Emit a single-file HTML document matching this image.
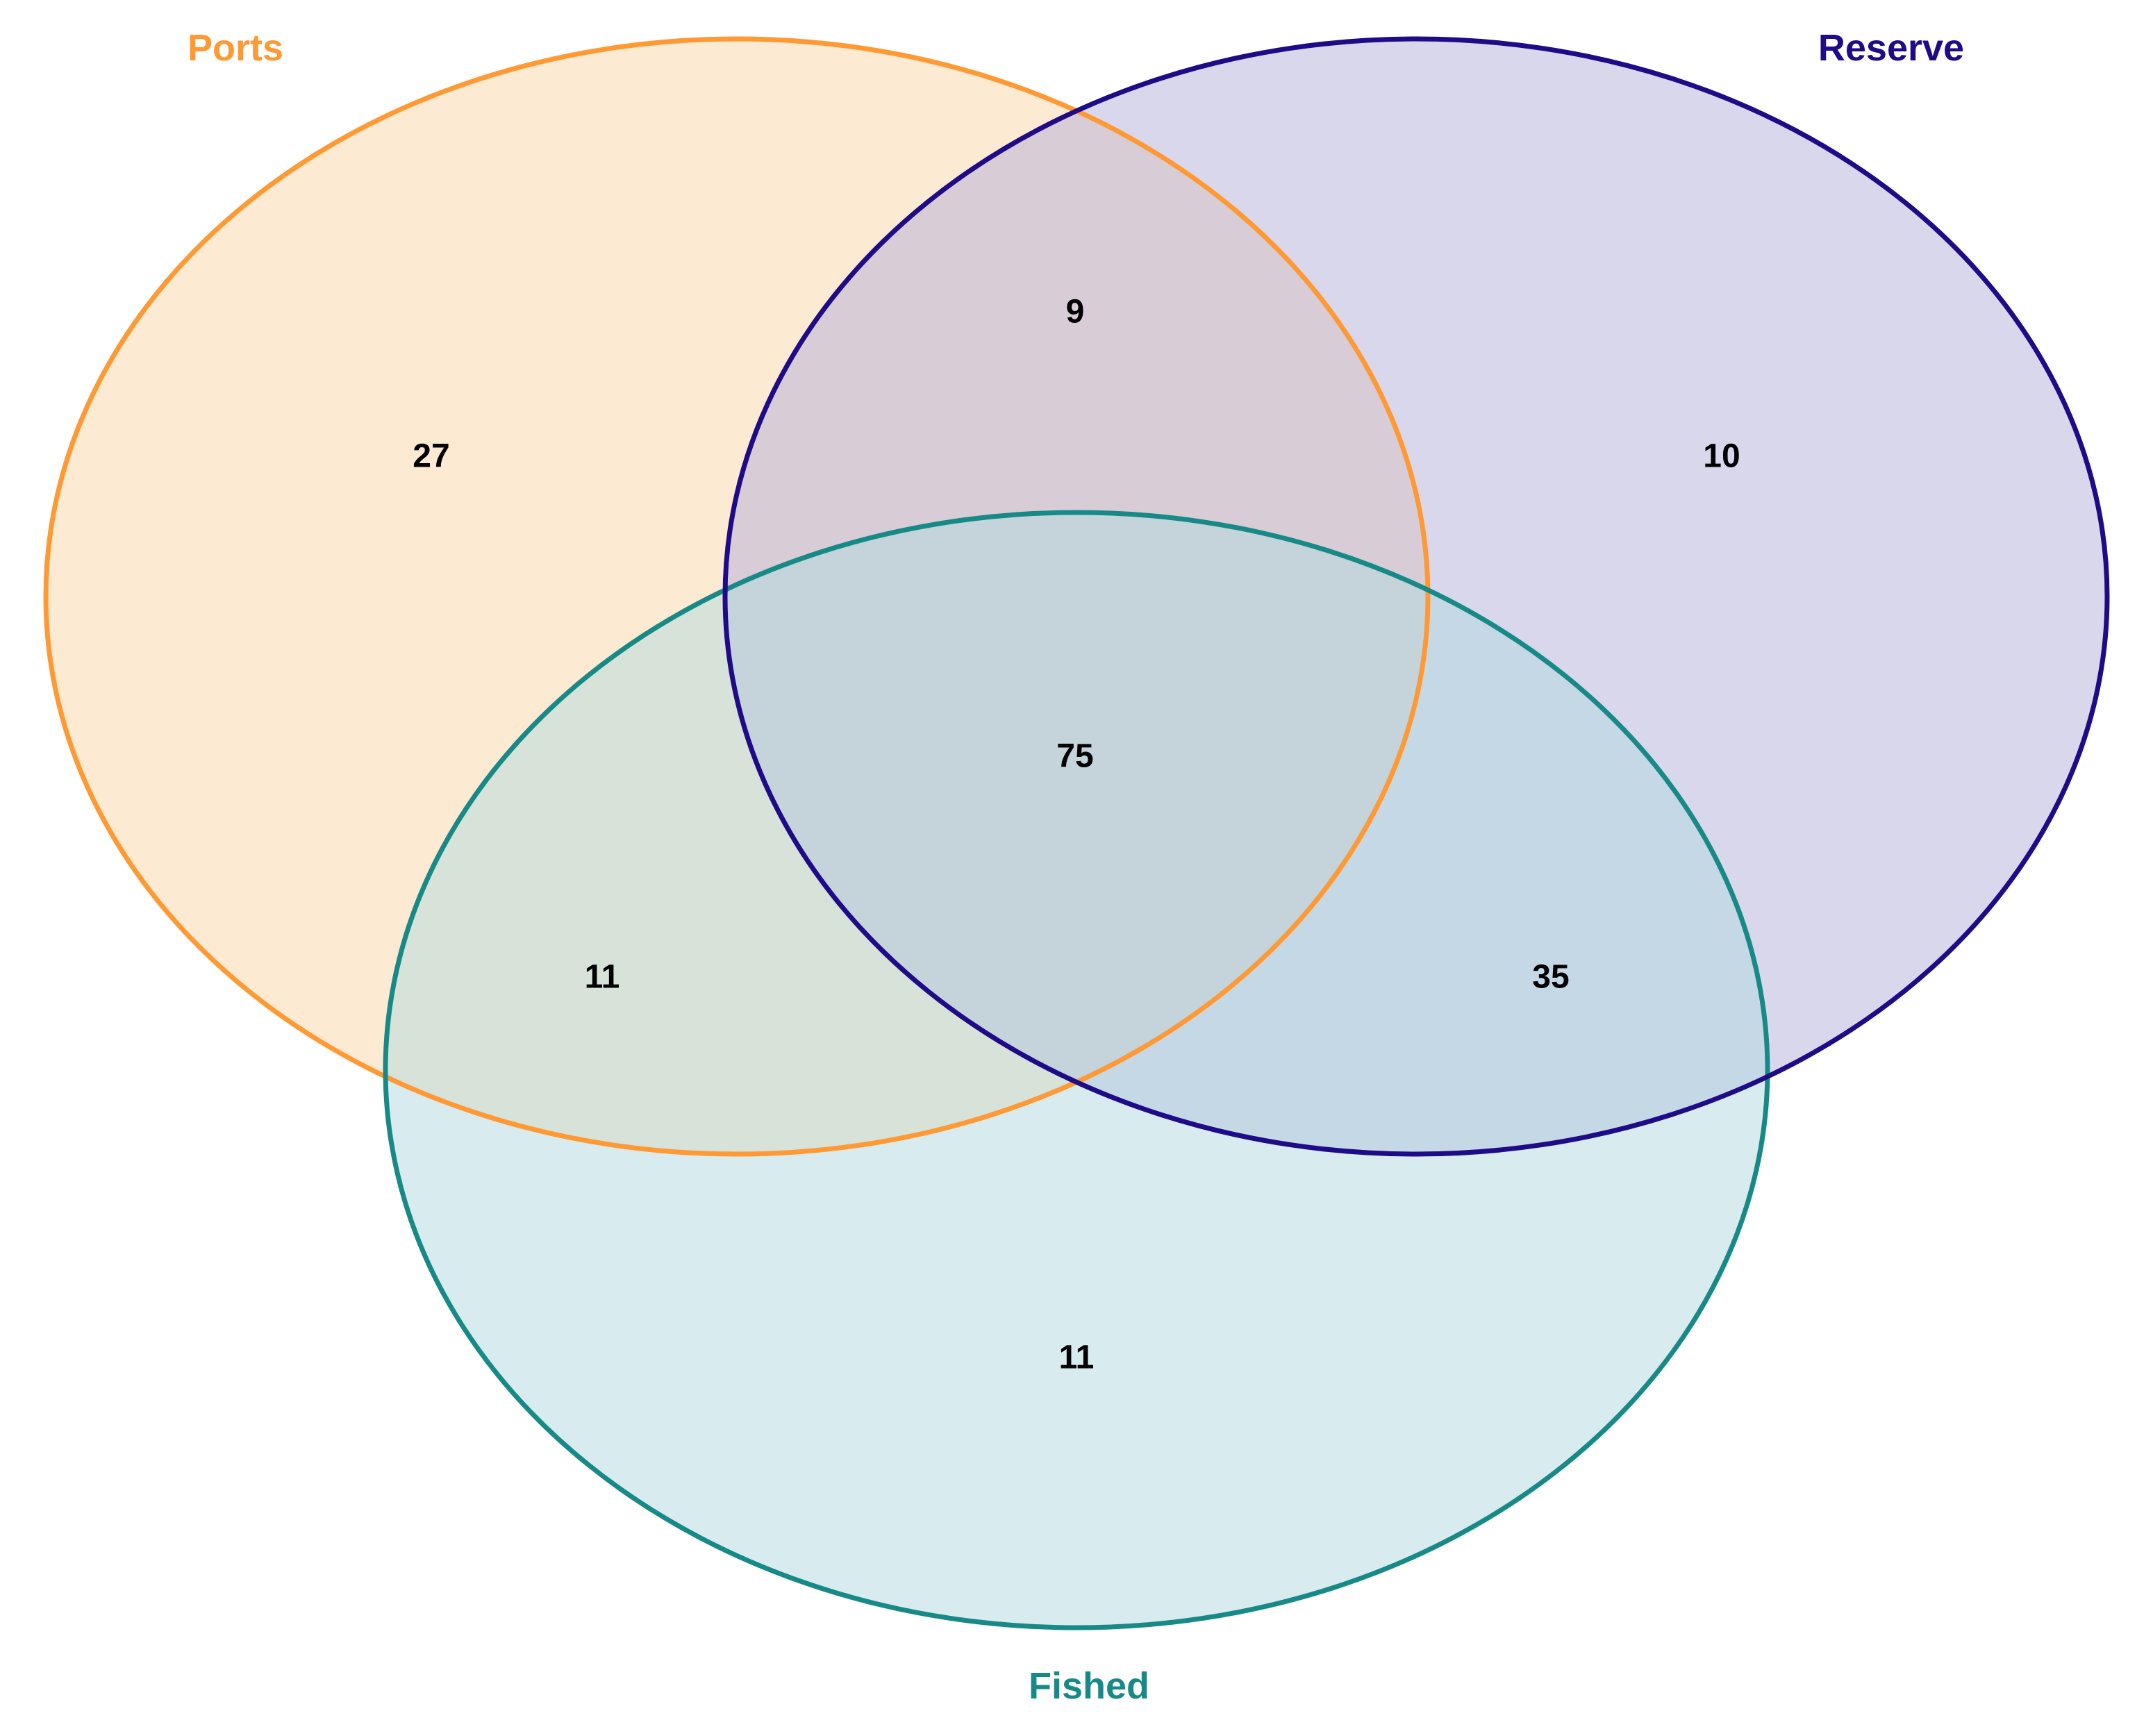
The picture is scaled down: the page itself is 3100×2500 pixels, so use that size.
<!DOCTYPE html>
<html><head><meta charset="utf-8"><style>
html,body{margin:0;padding:0;background:#fff;}
svg{display:block;}
text{font-family:"Liberation Sans",Arial,sans-serif;font-weight:bold;}
</style></head><body>
<svg id="chart" width="3100" height="2500" viewBox="0 0 3100 2500" xmlns="http://www.w3.org/2000/svg"></svg>
<script>
const setNames = ["Ports", "Reserve", "Fished"];
const setColors = ["#ff9933", "#1f0a88", "#178a87"];
const setFills = ["#f9d5a7", "#b3afd9", "#b1d9df"];
const ellipseCx = [1061, 2039, 1550];
const ellipseCy = [859, 859, 1541];
const ellipseRx = 995;
const ellipseRy = 803;
const labelPos = [[339, 69], [2723, 69], [1568, 2428]];
const regionValues = [27, 9, 10, 75, 11, 35, 11];
const regionNames = ["ports-only", "ports-reserve", "reserve-only", "all-three", "ports-fished", "reserve-fished", "fished-only"];
const regionPos = [[621, 657], [1548, 449], [2479, 657], [1548, 1089], [867, 1407], [2233, 1407], [1550, 1955]];

const svg = document.getElementById('chart');
const NS = "http://www.w3.org/2000/svg";
for (let i = 0; i < 3; i++) {
  const e = document.createElementNS(NS, 'ellipse');
  
  
  e.setAttribute('cx', ellipseCx[i]); e.setAttribute('cy', ellipseCy[i]);
  e.setAttribute('rx', ellipseRx); e.setAttribute('ry', ellipseRy);
  e.setAttribute('fill', setFills[i]); e.setAttribute('fill-opacity', '0.5');
  e.setAttribute('stroke', 'none');
  svg.appendChild(e);
}
const strokeOrder = [0, 2, 1];
for (const i of strokeOrder) {
  const e = document.createElementNS(NS, 'ellipse');
  
  
  e.setAttribute('cx', ellipseCx[i]); e.setAttribute('cy', ellipseCy[i]);
  e.setAttribute('rx', ellipseRx); e.setAttribute('ry', ellipseRy);
  e.setAttribute('fill', 'none');
  e.setAttribute('stroke', setColors[i]); e.setAttribute('stroke-width', '7');
  svg.appendChild(e);
}
for (let i = 0; i < 3; i++) {
  const t = document.createElementNS(NS, 'text');
  
  
  t.setAttribute('x', labelPos[i][0]); t.setAttribute('y', labelPos[i][1]);
  t.setAttribute('text-anchor', 'middle'); t.setAttribute('dominant-baseline', 'central');
  t.setAttribute('font-size', '54'); t.setAttribute('fill', setColors[i]);
  t.textContent = setNames[i];
  svg.appendChild(t);
}
for (let i = 0; i < regionValues.length; i++) {
  const t = document.createElementNS(NS, 'text');
  
  
  t.setAttribute('x', regionPos[i][0]); t.setAttribute('y', regionPos[i][1]);
  t.setAttribute('text-anchor', 'middle'); t.setAttribute('dominant-baseline', 'central');
  t.setAttribute('font-size', '48'); t.setAttribute('fill', '#000');
  t.textContent = regionValues[i];
  svg.appendChild(t);
}
</script>
</body></html>
